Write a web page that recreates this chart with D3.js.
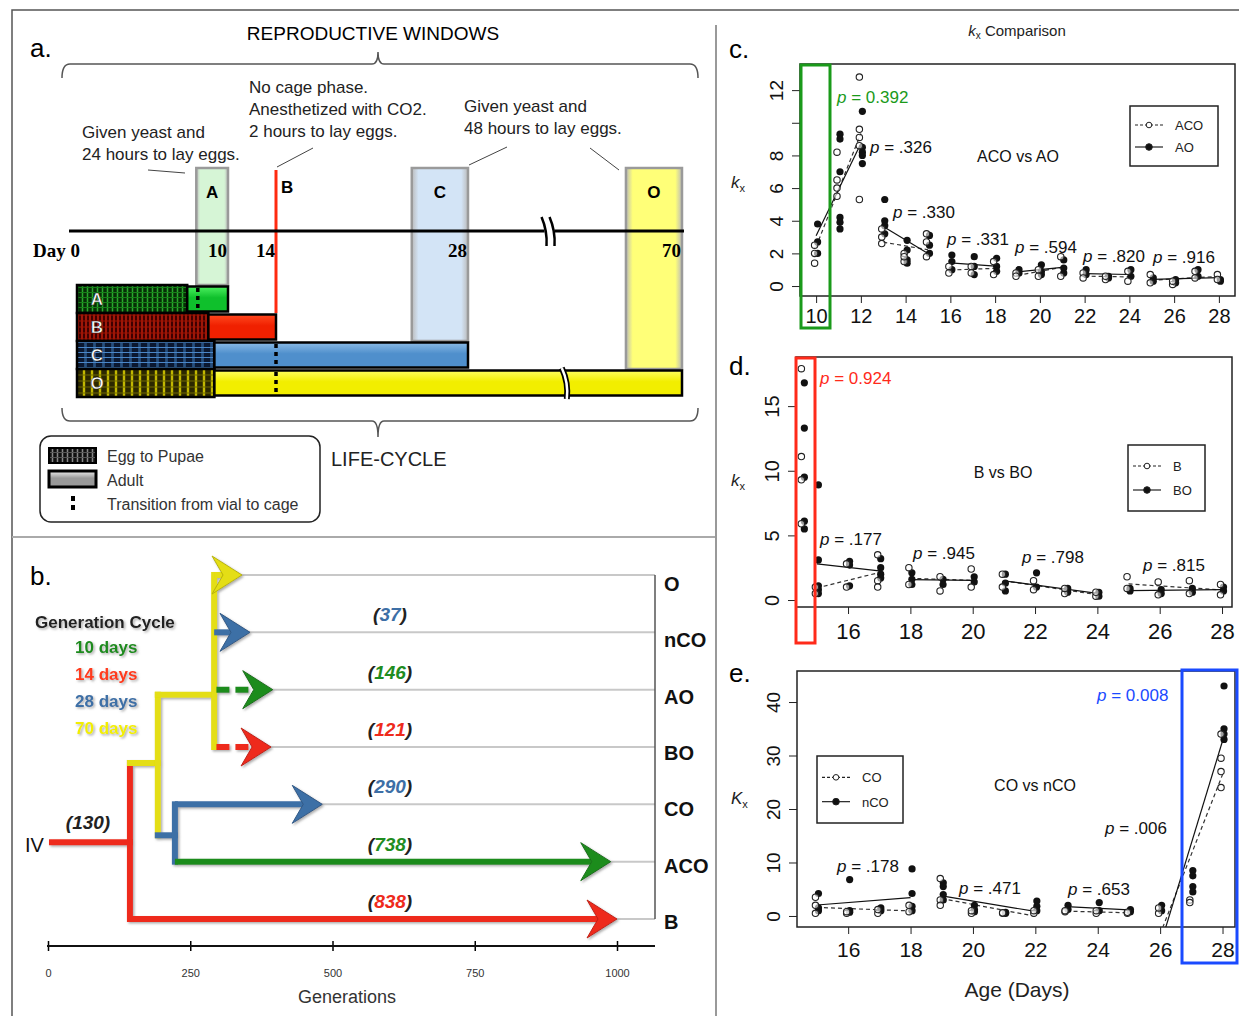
<!DOCTYPE html>
<html>
<head>
<meta charset="utf-8">
<script src="https://cdn.jsdelivr.net/npm/d3@7"></script>
<style>
  body { margin: 0; background: #fff; }
  svg { font-family: "Liberation Sans", Arial, sans-serif; }
</style>
</head>
<body>
<div id="fig"></div>
<script>
// ---------- panel a : reproductive windows / life cycle ----------
var lineNames = ["A", "B", "C", "O"]
var cycleDays = [10, 14, 28, 70]
var pupaeEnd = [7.3, 8.7, 9.1, 9.1]
var transitionDay = [8, null, 14, 14]
var windowStart = [7.9, null, 23.9, 59]
var dayTicks = [0, 10, 14, 28, 70]

// ---------- panel b : selection tree ----------
var popNames = ["O", "nCO", "AO", "BO", "CO", "ACO", "B"]
var popGens = [null, 37, 146, 121, 290, 738, 838]
var arrowTip = [341, 355, 395, 392, 482, 989, 1000]
var genTicks = [0, 250, 500, 750, 1000]
var cycleLabels = ["10 days", "14 days", "28 days", "70 days"]

// ---------- panel c : ACO vs AO ----------
var cACO = [[10,1.4],[10,2.0],[10,2.5],[11,8.2],[11,6.5],[11,6.0],[11,5.5],[12,12.8],[12,9.6],[12,9.1],[12,8.6],[12,5.3],
  [13,3.5],[13,3.0],[13,2.6],[14,1.5],[14,2.0],[14,1.8],[15,1.8],[15,2.7],[15,3.2],[16,0.8],[16,1.2],[17,1.2],[17,0.8],
  [18,1.5],[18,0.7],[19,0.8],[19,0.6],[20,0.6],[20,1.0],[21,1.8],[21,0.6],[22,0.8],[22,0.5],[23,0.4],[23,0.6],[24,0.3],
  [24,0.9],[25,0.7],[25,0.2],[26,0.1],[26,0.3],[27,0.9],[27,0.5],[28,0.7],[28,0.4]]
var cAO = [[10,2.0],[10,2.7],[10,3.8],[11,9.3],[11,9.0],[11,7.0],[11,4.2],[11,3.9],[11,3.5],[12,10.7],[12,8.5],[12,8.2],
  [12,8.0],[12,7.5],[13,5.3],[13,4.0],[13,3.7],[13,3.2],[14,2.8],[14,2.2],[14,1.6],[14,1.4],[15,3.1],[15,2.5],[15,2.0],
  [16,1.9],[16,1.5],[16,1.0],[17,1.8],[17,1.2],[17,0.7],[18,1.7],[18,1.2],[18,0.9],[19,1.0],[19,0.8],[20,1.3],[20,0.9],
  [20,0.7],[21,1.6],[21,1.1],[21,0.8],[22,1.0],[22,0.7],[23,0.6],[23,0.5],[24,1.0],[24,0.6],[25,0.5],[25,0.3],[26,0.4],
  [26,0.2],[27,1.0],[27,0.6],[28,0.4],[28,0.3]]
var cGroups = [[10,12],[13,15],[16,18],[19,21],[22,24],[25,28]]
var cP = ["0.392", ".326", ".330", ".331", ".594", ".820", ".916"]

// ---------- panel d : B vs BO ----------
var dB = [[14.55,17.9],[14.55,11.1],[14.55,9.3],[14.55,5.9],[15,1.0],[15,0.5],[16,2.8],[16,1.0],[17,3.5],[17,1.5],[17,1.0],
  [18,2.5],[18,1.2],[19,1.8],[19,0.7],[20,2.4],[20,1.0],[21,2.0],[21,1.0],[22,1.5],[22,0.8],[23,0.5],[23,0.9],[24,0.3],
  [24,0.6],[25,1.8],[25,0.9],[26,1.4],[26,0.4],[27,1.5],[27,0.5],[28,1.2],[28,0.4]]
var dBO = [[14.55,16.8],[14.55,13.3],[14.55,9.5],[14.55,6.1],[14.55,5.5],[15,8.9],[15,3.1],[15,1.1],[15,0.8],[15,0.5],
  [16,3.0],[16,2.7],[16,1.1],[17,3.2],[17,2.5],[17,2.0],[17,1.7],[18,2.1],[18,1.6],[18,1.2],[19,1.6],[19,1.2],[20,1.8],
  [20,1.4],[21,2.0],[21,1.3],[21,0.7],[22,2.1],[22,1.0],[23,0.9],[23,0.6],[24,0.6],[24,0.3],[25,0.9],[25,0.7],[26,0.8],
  [26,0.5],[27,0.9],[27,0.6],[28,1.0],[28,0.7]]
var dGroups = [[15,17],[18,20],[21,24],[25,28]]
var dP = ["0.924", ".177", ".945", ".798", ".815"]

// ---------- panel e : CO vs nCO ----------
var eCO = [[15,3.5],[15,2.0],[15,0.5],[16,0.5],[16,0.8],[17,0.5],[17,1.2],[18,0.8],[18,2.0],[19,7.0],[19,3.0],[19,2.0],
  [20,0.5],[20,1.0],[21,0.5],[21,0.6],[22,0.5],[22,1.0],[23,0.8],[23,1.0],[24,0.5],[24,1.0],[25,0.5],[25,0.7],[26,0.5],
  [26,1.5],[27,3.0],[27,2.5],[28,34.0],[28,29.5],[28,27.0],[28,24.0]]
var eNCO = [[15,4.2],[15,1.5],[15,1.0],[16,6.8],[16,1.0],[16,0.7],[17,1.5],[17,1.0],[18,8.8],[18,4.2],[18,1.8],[18,1.0],
  [19,6.2],[19,5.5],[19,4.0],[19,3.0],[20,2.0],[20,1.2],[20,0.8],[21,0.7],[21,0.5],[22,2.8],[22,1.8],[22,1.0],[23,2.0],
  [23,1.2],[24,2.5],[24,1.0],[25,1.2],[25,0.8],[26,2.0],[26,1.0],[27,8.5],[27,7.5],[27,5.5],[27,4.5],[28,43.0],[28,35.0],
  [28,34.0],[28,33.0]]
var eGroups = [[15,18],[19,22],[23,25],[26,28]]
var eP = ["0.008", ".006", ".178", ".471", ".653"]

var RED = "#ee2a1c", YEL = "#e4de12", BLUE = "#3d6fa6", GREEN = "#1f8c1f"

var svg = d3.select("#fig").append("svg").attr("width", 1239).attr("height", 1016)
var defs = svg.append("defs")

// frame lines
svg.append("path").attr("d", "M12,1016 V10 H1239").attr("fill", "none").attr("stroke", "#555").attr("stroke-width", 1.5)
svg.append("line").attr("x1", 716).attr("x2", 716).attr("y1", 25).attr("y2", 1016).attr("stroke", "#999").attr("stroke-width", 2)
svg.append("line").attr("x1", 12).attr("x2", 715).attr("y1", 537).attr("y2", 537).attr("stroke", "#aaa").attr("stroke-width", 2)

// ================= panel a =================
var pupaeStyle = {
  A: {w: 5, h: 5, bg: "#062f06", v: "#2aa82e", hz: "#168018"},
  B: {w: 4, h: 6, bg: "#3e0000", v: "#e0260e", hz: "#a01200"},
  C: {w: 9, h: 5, bg: "#0b1830", v: "#27507f", hz: "#4a86c8"},
  O: {w: 8, h: 6, bg: "#2c2800", v: "#c2b800", hz: "#6e6800"},
  L: {w: 5, h: 5, bg: "#111", v: "#888", hz: "#555"}
}
Object.keys(pupaeStyle).forEach(function(k) {
  var s = pupaeStyle[k]
  var p = defs.append("pattern").attr("id", "pup" + k).attr("patternUnits", "userSpaceOnUse")
    .attr("width", s.w).attr("height", s.h)
  p.append("rect").attr("width", s.w).attr("height", s.h).attr("fill", s.bg)
  p.append("line").attr("x1", s.w / 2).attr("x2", s.w / 2).attr("y1", 0).attr("y2", s.h)
    .attr("stroke", s.v).attr("stroke-width", Math.max(1.2, s.w * 0.3))
  p.append("line").attr("x1", 0).attr("x2", s.w).attr("y1", s.h / 2).attr("y2", s.h / 2)
    .attr("stroke", s.hz).attr("stroke-width", 1)
})
var adultCol = {A: ["#4df060", "#0fc02c"], B: ["#ff4a20", "#f02000"], C: ["#8bbbe6", "#4f8fcc"], O: ["#ffff60", "#f2ee00"], L: ["#eee", "#999"]}
Object.keys(adultCol).forEach(function(k) {
  var g = defs.append("linearGradient").attr("id", "ad" + k).attr("x1", 0).attr("x2", 0).attr("y1", 0).attr("y2", 1)
  g.append("stop").attr("offset", "0%").attr("stop-color", adultCol[k][0])
  g.append("stop").attr("offset", "45%").attr("stop-color", adultCol[k][1])
  g.append("stop").attr("offset", "100%").attr("stop-color", adultCol[k][1])
})
var winCol = {A: "#d6f5d6", C: "#d3e4f6", O: "#ffff78"}
Object.keys(winCol).forEach(function(k) {
  var g = defs.append("linearGradient").attr("id", "win" + k)
  g.append("stop").attr("offset", "0%").attr("stop-color", "#bbb")
  g.append("stop").attr("offset", "12%").attr("stop-color", winCol[k])
  g.append("stop").attr("offset", "88%").attr("stop-color", winCol[k])
  g.append("stop").attr("offset", "100%").attr("stop-color", "#bbb")
})
defs.append("filter").attr("id", "shadow").attr("x", "-10%").attr("y", "-30%").attr("width", "130%").attr("height", "160%")
  .append("feDropShadow").attr("dx", 1.5).attr("dy", 1.5).attr("stdDeviation", 1.2).attr("flood-color", "#777").attr("flood-opacity", 0.6)

var dayX = d3.scaleLinear().domain(dayTicks).range([77, 228, 276, 468, 682])
var rowY = d3.scaleBand().domain(lineNames).range([285, 397])

svg.append("text").attr("x", 30).attr("y", 57).attr("font-size", 26).text("a.")
svg.append("text").attr("x", 373).attr("y", 40).attr("font-size", 19).attr("text-anchor", "middle").text("REPRODUCTIVE WINDOWS")
svg.append("path").attr("d", "M62,78 Q62,64 70,64 L372,64 Q378,64 378,52 Q378,64 384,64 L690,64 Q698,64 698,78")
  .attr("fill", "none").attr("stroke", "#555").attr("stroke-width", 1.5)
svg.append("path").attr("d", "M62,408 Q62,421 70,421 L372,421 Q378,421 378,437 Q378,421 384,421 L690,421 Q698,421 698,408")
  .attr("fill", "none").attr("stroke", "#555").attr("stroke-width", 1.5)

// annotations
var notes = [
  {x: 82, y: 138, lines: ["Given yeast and", "24 hours to lay eggs."]},
  {x: 249, y: 93, lines: ["No cage phase.", "Anesthetized with CO2.", "2 hours to lay eggs."]},
  {x: 464, y: 112, lines: ["Given yeast and", "48 hours to lay eggs."]}
]
notes.forEach(function(n) {
  svg.append("text").attr("font-size", 17).attr("fill", "#222").selectAll("tspan").data(n.lines).enter()
    .append("tspan").attr("x", n.x).attr("y", function(d, i) { return n.y + i * 22 }).text(function(d) { return d })
})
var leaders = [[148, 170, 185, 173], [277, 167, 313, 148], [469, 165, 507, 147], [590, 148, 619, 170]]
leaders.forEach(function(l) {
  svg.append("line").attr("x1", l[0]).attr("y1", l[1]).attr("x2", l[2]).attr("y2", l[3]).attr("stroke", "#444").attr("stroke-width", 1)
})

// reproductive window boxes
lineNames.forEach(function(n, i) {
  if (windowStart[i] == null) return
  svg.append("rect").attr("x", dayX(windowStart[i])).attr("y", 168)
    .attr("width", dayX(cycleDays[i]) - dayX(windowStart[i])).attr("height", rowY(n) - 168)
    .attr("fill", "url(#win" + n + ")").attr("stroke", "#9a9a9a").attr("stroke-width", 2.5)
  svg.append("text").attr("x", (dayX(cycleDays[i]) + dayX(windowStart[i])) / 2).attr("y", 198)
    .attr("font-size", 17).attr("font-weight", "bold").attr("text-anchor", "middle").text(n)
})
svg.append("line").attr("x1", dayX(14)).attr("x2", dayX(14)).attr("y1", 170).attr("y2", rowY("B"))
  .attr("stroke", "#ff2a10").attr("stroke-width", 3)
svg.append("text").attr("x", dayX(14) + 5).attr("y", 193).attr("font-size", 17).attr("font-weight", "bold").text("B")

// timeline
svg.append("line").attr("x1", 69).attr("x2", 684).attr("y1", 231).attr("y2", 231).attr("stroke", "#000").attr("stroke-width", 3)
var brk = dayX(44)
svg.append("rect").attr("x", brk - 5).attr("y", 228).attr("width", 10).attr("height", 6).attr("fill", "#fff")
;[-5, 3].forEach(function(o) {
  svg.append("path").attr("d", "M" + (brk + o - 3) + ",217 Q" + (brk + o + 3) + ",231 " + (brk + o + 2) + ",246")
    .attr("fill", "none").attr("stroke", "#000").attr("stroke-width", 2.5)
})
dayTicks.forEach(function(d) {
  svg.append("text").attr("x", dayX(d) + (d === 0 ? 3 : -1)).attr("y", 257).attr("text-anchor", "end")
    .style("font-family", '"Liberation Serif", "DejaVu Serif", serif').attr("font-weight", "bold").attr("font-size", 19)
    .text(d === 0 ? "Day 0" : d)
})

// life-cycle bars
lineNames.forEach(function(n, i) {
  var y0 = rowY(n), h = rowY.bandwidth()
  svg.append("rect").attr("x", dayX(0)).attr("y", y0).attr("width", dayX(pupaeEnd[i]) - dayX(0)).attr("height", h)
    .attr("fill", "url(#pup" + n + ")").attr("stroke", "#000").attr("stroke-width", 2.5)
  svg.append("rect").attr("x", dayX(pupaeEnd[i])).attr("y", y0 + 1.5).attr("width", dayX(cycleDays[i]) - dayX(pupaeEnd[i])).attr("height", h - 3)
    .attr("fill", "url(#ad" + n + ")").attr("stroke", "#000").attr("stroke-width", 2.5)
  svg.append("text").attr("x", 97).attr("y", y0 + h / 2 + 6).attr("text-anchor", "middle").attr("font-size", 17)
    .attr("font-weight", "bold").attr("fill", "#fff").attr("stroke", "#111").attr("stroke-width", 0.5).text(n)
})
// break in O bar
var obrk = dayX(47), oy = rowY("O")
var brkPath = "M" + (obrk - 3) + "," + (oy - 1) + " Q" + (obrk + 4) + "," + (oy + 14) + " " + (obrk + 2) + "," + (oy + 30)
svg.append("path").attr("d", brkPath).attr("fill", "none").attr("stroke", "#000").attr("stroke-width", 6)
svg.append("path").attr("d", brkPath).attr("fill", "none").attr("stroke", "#fff").attr("stroke-width", 2.5)
// transition from vial to cage
lineNames.forEach(function(n, i) {
  if (transitionDay[i] == null) return
  svg.append("line").attr("x1", dayX(transitionDay[i])).attr("x2", dayX(transitionDay[i]))
    .attr("y1", rowY(n) + 3).attr("y2", rowY(n) + rowY.bandwidth() - 3)
    .attr("stroke", "#000").attr("stroke-width", 3.5).attr("stroke-dasharray", "4,4")
})

// legend for panel a
svg.append("rect").attr("x", 40).attr("y", 436).attr("width", 280).attr("height", 86).attr("rx", 11)
  .attr("fill", "#fff").attr("stroke", "#222").attr("stroke-width", 1.5)
svg.append("rect").attr("x", 49).attr("y", 448).attr("width", 47).attr("height", 15).attr("fill", "url(#pupL)").attr("stroke", "#000").attr("stroke-width", 2)
svg.append("rect").attr("x", 49).attr("y", 471).attr("width", 47).attr("height", 16).attr("fill", "url(#adL)").attr("stroke", "#000").attr("stroke-width", 3)
svg.append("line").attr("x1", 73).attr("x2", 73).attr("y1", 496).attr("y2", 513).attr("stroke", "#000").attr("stroke-width", 4).attr("stroke-dasharray", "5,4")
;["Egg to Pupae", "Adult", "Transition from vial to cage"].forEach(function(t, i) {
  svg.append("text").attr("x", 107).attr("y", 462 + i * 24).attr("font-size", 16).attr("fill", "#333").text(t)
})
svg.append("text").attr("x", 331).attr("y", 466).attr("font-size", 20).attr("fill", "#222").text("LIFE-CYCLE")

// ================= panel b =================
var genX = d3.scaleLinear().domain([0, 1000]).range([48, 617])
var popY = d3.scaleLinear().domain([0, 6]).range([575, 919])
var labY = d3.scaleLinear().domain([0, 6]).range([591, 929])
var popColor = [YEL, BLUE, GREEN, RED, BLUE, GREEN, RED]

svg.append("text").attr("x", 30).attr("y", 585).attr("font-size", 26).text("b.")

// guide lines to right edge
popNames.forEach(function(n, i) {
  svg.append("line").attr("x1", genX(arrowTip[i]) - 4).attr("x2", 655).attr("y1", popY(i)).attr("y2", popY(i))
    .attr("stroke", "#c8c8c8").attr("stroke-width", 2)
  svg.append("text").attr("x", 664).attr("y", labY(i)).attr("font-size", 20).attr("font-weight", "bold").attr("fill", "#111").text(n)
  if (popGens[i] != null) {
    var t = svg.append("text").attr("x", 390).attr("y", popY(i) - 11).attr("text-anchor", "middle")
      .attr("font-size", 19).attr("font-weight", "bold").attr("font-style", "italic").attr("fill", "#222")
    t.append("tspan").text("(")
    t.append("tspan").attr("fill", popColor[i]).text(popGens[i])
    t.append("tspan").text(")")
  }
})
svg.append("line").attr("x1", 655).attr("x2", 655).attr("y1", popY(0)).attr("y2", popY(6)).attr("stroke", "#555").attr("stroke-width", 1.5)

// tree branches, in generation / row units
var branches = [
  {c: RED, pts: [[7, 4.66], [144, 4.66]]},
  {c: RED, pts: [[144, 3.28], [144, 6]]},
  {c: YEL, pts: [[144, 3.28], [193, 3.28]]},
  {c: YEL, pts: [[193, 2.09], [193, 4.54]]},
  {c: YEL, pts: [[193, 2.09], [292, 2.09]]},
  {c: YEL, pts: [[292, 3], [292, 0]]},
  {c: BLUE, pts: [[193, 4.54], [223, 4.54]]},
  {c: BLUE, pts: [[223, 4], [223, 5]]}
]
var arrows = [
  {row: 0, from: 292, c: YEL}, {row: 1, from: 292, c: BLUE}, {row: 2, from: 296, c: GREEN, dash: true},
  {row: 3, from: 296, c: RED, dash: true}, {row: 4, from: 223, c: BLUE}, {row: 5, from: 223, c: GREEN}, {row: 6, from: 144, c: RED}
]
var tree = svg.append("g").attr("filter", "url(#shadow)")
var lineGen = d3.line().x(function(d) { return genX(d[0]) }).y(function(d) { return popY(d[1]) })
branches.forEach(function(b) {
  tree.append("path").attr("d", lineGen(b.pts)).attr("fill", "none").attr("stroke", b.c)
    .attr("stroke-width", 6).attr("stroke-linecap", "square")
})
arrows.forEach(function(a) {
  var tip = genX(arrowTip[a.row]), y = popY(a.row)
  tree.append("line").attr("x1", genX(a.from)).attr("x2", tip - 16).attr("y1", y).attr("y2", y)
    .attr("stroke", a.c).attr("stroke-width", 6).attr("stroke-dasharray", a.dash ? "13,6" : null)
  tree.append("path").attr("d", "M" + tip + "," + y + " L" + (tip - 30) + "," + (y - 19) + " L" + (tip - 19) + "," + y +
      " L" + (tip - 30) + "," + (y + 19) + " Z")
    .attr("fill", a.c).attr("stroke", d3.color(a.c).darker(0.6)).attr("stroke-width", 1)
})
svg.append("text").attr("x", 25).attr("y", 852).attr("font-size", 20).attr("fill", "#111").text("IV")
svg.append("text").attr("x", 88).attr("y", 829).attr("text-anchor", "middle").attr("font-size", 19)
  .attr("font-weight", "bold").attr("font-style", "italic").attr("fill", "#222").text("(130)")

// generation cycle key
var key = svg.append("g").attr("filter", "url(#shadow)").attr("font-weight", "bold").attr("font-size", 17)
key.append("text").attr("x", 35).attr("y", 628).attr("fill", "#222").text("Generation Cycle")
cycleLabels.forEach(function(t, i) {
  key.append("text").attr("x", 75).attr("y", 653 + i * 27).attr("fill", [GREEN, "#ff3a1a", BLUE, "#f2ee00"][i]).text(t)
})

// generations axis
var gAxis = svg.append("g").attr("transform", "translate(0,946)")
  .call(d3.axisBottom(genX).tickValues(genTicks).tickSize(5).tickPadding(18).tickFormat(d3.format("d")))
gAxis.select(".domain").remove()
gAxis.selectAll(".tick line").attr("y1", -5).attr("y2", 5).attr("stroke-width", 1.5)
gAxis.selectAll("text").attr("font-size", 11).attr("fill", "#333")
svg.append("line").attr("x1", 47).attr("x2", 655).attr("y1", 946).attr("y2", 946).attr("stroke", "#111").attr("stroke-width", 2)
svg.append("text").attr("x", 347).attr("y", 1003).attr("text-anchor", "middle").attr("font-size", 18).attr("fill", "#333").text("Generations")

// ================= panels c, d, e =================
function fitLine(pts) {
  var mx = d3.mean(pts, function(d) { return d[0] }), my = d3.mean(pts, function(d) { return d[1] })
  var sxx = d3.sum(pts, function(d) { return (d[0] - mx) * (d[0] - mx) })
  var sxy = d3.sum(pts, function(d) { return (d[0] - mx) * (d[1] - my) })
  var b = sxx ? sxy / sxx : 0
  return function(t) { return my + b * (t - mx) }
}

function kx(g, x, y, size, cap) {
  var t = g.append("text").attr("x", x).attr("y", y).attr("font-size", size).attr("fill", "#222")
  t.append("tspan").attr("font-style", "italic").text(cap ? "K" : "k")
  t.append("tspan").attr("font-size", size * 0.65).attr("dy", 4).text("x")
  return t
}

function scatterPanel(o) {
  var g = svg.append("g")
  var x = d3.scaleLinear().domain(o.xDom).range([o.box[0], o.box[2]])
  var y = d3.scaleLinear().domain(o.yDom).range([o.box[3], o.box[1]])
  var clip = "clip" + o.id
  defs.append("clipPath").attr("id", clip).append("rect")
    .attr("x", o.box[0]).attr("y", o.box[1]).attr("width", o.box[2] - o.box[0]).attr("height", o.box[3] - o.box[1])

  g.append("text").attr("x", 729).attr("y", o.letterY).attr("font-size", 26).text(o.id + ".")

  // axes
  var xa = g.append("g").attr("transform", "translate(0," + o.box[3] + ")")
    .call(d3.axisBottom(x).tickValues(o.xTicks).tickSize(7).tickPadding(o.xPad))
  xa.select(".domain").remove()
  xa.selectAll("text").attr("font-size", o.xFont).attr("fill", "#111")
  xa.selectAll("line").attr("stroke", "#222")
  var ya = g.append("g").attr("transform", "translate(" + o.box[0] + ",0)")
    .call(d3.axisLeft(y).tickValues(o.yTicks).tickSize(8)
      .tickFormat(function(d) { return o.yHide.indexOf(d) >= 0 ? "" : d }))
  ya.select(".domain").remove()
  ya.selectAll("line").attr("stroke", "#222")
  ya.selectAll("text").attr("font-size", o.yFont).attr("fill", "#111").attr("text-anchor", "middle")
    .attr("x", 0).attr("dy", 0).attr("transform", "translate(-17,0) rotate(-90)")

  g.append("rect").attr("x", o.box[0]).attr("y", o.box[1]).attr("width", o.box[2] - o.box[0]).attr("height", o.box[3] - o.box[1])
    .attr("fill", "none").attr("stroke", "#222").attr("stroke-width", 1.5)

  kx(g, o.kxPos[0], o.kxPos[1], 17, o.id === "e")

  // group fit lines
  var lines = g.append("g").attr("clip-path", "url(#" + clip + ")")
  o.groups.forEach(function(gr) {
    [[o.open, "4,3", "#333"], [o.filled, null, "#111"]].forEach(function(s) {
      var pts = s[0].filter(function(d) { return d[0] >= gr[0] && d[0] <= gr[1] })
      var f = fitLine(pts)
      lines.append("line").attr("x1", x(gr[0])).attr("x2", x(gr[1])).attr("y1", y(f(gr[0]))).attr("y2", y(f(gr[1])))
        .attr("stroke", s[2]).attr("stroke-width", 1.2).attr("stroke-dasharray", s[1])
    })
  })

  // points
  g.append("g").selectAll("circle").data(o.filled).enter().append("circle")
    .attr("cx", function(d) { return x(d[0]) + 1.5 }).attr("cy", function(d) { return y(d[1]) })
    .attr("r", 3.6).attr("fill", "#111")
  g.append("g").selectAll("circle").data(o.open).enter().append("circle")
    .attr("cx", function(d) { return x(d[0]) - 1.5 }).attr("cy", function(d) { return y(d[1]) })
    .attr("r", 3.2).attr("fill", "#fff").attr("fill-opacity", 0.6).attr("stroke", "#222").attr("stroke-width", 1.1)

  // p values
  o.pvals.forEach(function(v, i) {
    var pos = o.pPos[i]
    var t = g.append("text").attr("x", pos[0]).attr("y", pos[1]).attr("font-size", 17).attr("fill", i === 0 ? o.hiColor : "#111")
    t.append("tspan").attr("font-style", "italic").text("p")
    t.append("tspan").text(" = " + v)
  })

  g.append("text").attr("x", o.vsPos[0]).attr("y", o.vsPos[1]).attr("text-anchor", "middle").attr("font-size", 16).attr("fill", "#111").text(o.vs)

  // legend
  var L = o.legend
  g.append("rect").attr("x", L[0]).attr("y", L[1]).attr("width", L[2] - L[0]).attr("height", L[3] - L[1])
    .attr("fill", "#fff").attr("stroke", "#222").attr("stroke-width", 1.5)
  var rowH = (L[3] - L[1]) / 3
  o.names.forEach(function(n, i) {
    var ly = L[1] + rowH * (i + 1) + (i === 0 ? -1 : 1)
    g.append("line").attr("x1", L[0] + 5).attr("x2", L[0] + 33).attr("y1", ly).attr("y2", ly)
      .attr("stroke", "#222").attr("stroke-width", 1.2).attr("stroke-dasharray", i === 0 ? "3,2" : null)
    g.append("circle").attr("cx", L[0] + 19).attr("cy", ly).attr("r", i === 0 ? 2.8 : 3.3)
      .attr("fill", i === 0 ? "#fff" : "#111").attr("stroke", "#222").attr("stroke-width", 1)
    g.append("text").attr("x", L[0] + 45).attr("y", ly + 5).attr("font-size", 13).attr("fill", "#222").text(n)
  })

  // highlight box
  var H = o.hi
  g.append("rect").attr("x", H[0]).attr("y", H[1]).attr("width", H[2] - H[0]).attr("height", H[3] - H[1])
    .attr("fill", "none").attr("stroke", o.hiColor).attr("stroke-width", 3)
  return g
}

// title
var ttl = svg.append("text").attr("x", 1017).attr("y", 36).attr("text-anchor", "middle").attr("font-size", 15).attr("fill", "#222")
ttl.append("tspan").attr("font-style", "italic").text("k")
ttl.append("tspan").attr("font-size", 10).attr("dy", 3).text("x")
ttl.append("tspan").attr("dy", -3).text(" Comparison")

scatterPanel({
  id: "c", letterY: 58, box: [800, 64, 1235, 296], xDom: [9.28, 28.72], yDom: [-0.61, 13.6],
  xTicks: d3.range(10, 29, 2), yTicks: [0, 2, 4, 6, 8, 10, 12], yHide: [10], xFont: 20, yFont: 19, xPad: 6,
  open: cACO, filled: cAO, groups: cGroups, names: ["ACO", "AO"], pvals: cP,
  pPos: [[837, 103], [870, 153], [893, 218], [947, 245], [1015, 253], [1083, 262], [1153, 263]],
  vs: "ACO vs AO", vsPos: [1018, 162], legend: [1130, 106, 1218, 166], kxPos: [731, 188],
  hi: [801, 65, 830, 328], hiColor: "#1a9a1a"
})
scatterPanel({
  id: "d", letterY: 375, box: [796, 357, 1232, 607], xDom: [14.33, 28.32], yDom: [-0.54, 18.8],
  xTicks: d3.range(16, 29, 2), yTicks: [0, 5, 10, 15], yHide: [], xFont: 22, yFont: 20, xPad: 9,
  open: dB, filled: dBO, groups: dGroups, names: ["B", "BO"], pvals: dP,
  pPos: [[820, 384], [820, 545], [913, 559], [1022, 563], [1143, 571]],
  vs: "B vs BO", vsPos: [1003, 478], legend: [1128, 445, 1205, 511], kxPos: [731, 486],
  hi: [796, 358, 815, 643], hiColor: "#ff2a1a"
})
scatterPanel({
  id: "e", letterY: 682, box: [797, 671, 1235, 927], xDom: [14.36, 28.4], yDom: [-2.06, 45.8],
  xTicks: d3.range(16, 29, 2), yTicks: [0, 10, 20, 30, 40], yHide: [], xFont: 21, yFont: 19, xPad: 8,
  open: eCO, filled: eNCO, groups: eGroups, names: ["CO", "nCO"], pvals: eP,
  pPos: [[1097, 701], [1105, 834], [837, 872], [959, 894], [1068, 895]],
  vs: "CO vs nCO", vsPos: [1035, 791], legend: [817, 756, 903, 823], kxPos: [731, 804],
  hi: [1182, 670, 1237, 963], hiColor: "#1a4aff"
})
svg.append("text").attr("x", 1017).attr("y", 997).attr("text-anchor", "middle").attr("font-size", 21).attr("fill", "#222").text("Age (Days)")
</script>
</body>
</html>
